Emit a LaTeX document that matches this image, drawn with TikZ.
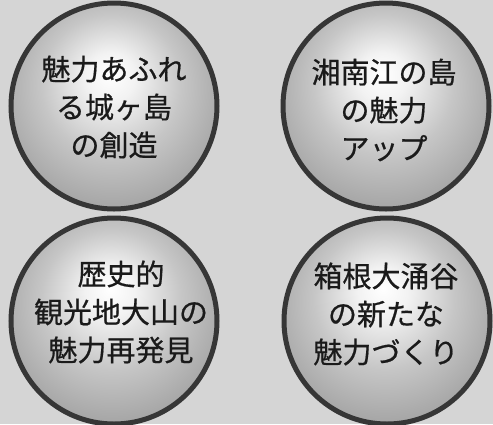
\documentclass[tikz,border=0pt]{standalone}
\usepackage{fontspec}
\newfontfamily\jp[FakeBold=0.6]{Noto Sans CJK JP}
\definecolor{bg}{HTML}{D5D5D5}
\definecolor{rim}{HTML}{363636}
\definecolor{ink}{HTML}{1A1A1A}
\definecolor{edgegray}{HTML}{A6A6A6}
\definecolor{midgray}{HTML}{C6C6C6}
\pgfdeclareradialshading{ball}{\pgfpoint{-1bp}{8bp}}{%
  color(0bp)=(white); color(6bp)=(white!95!black); color(17bp)=(midgray);
  color(28bp)=(edgegray); color(50bp)=(edgegray)}
\tikzset{
  orb/.style={circle, minimum size=206pt, inner sep=0pt, draw=rim, line width=5pt, shading=ball},
  label/.style={font=\jp\fontsize{29pt}{38pt}\selectfont, text=ink, align=center, inner sep=0pt}
}
\begin{document}
\begin{tikzpicture}[x=1pt,y=-1pt]
\fill[bg] (0,0) rectangle (493,424);
\useasboundingbox (0,0) rectangle (493,424);
\node[orb] (tl) at (114,106) {};
\node[orb] (tr) at (386,106) {};
\node[orb] (bl) at (114,321) {};
\node[orb] (br) at (387,321) {};
\node[label] (tlt) at (114,107) {魅力あふれ\\る城ヶ島\\の創造};
\node[label] (trt) at (384,110) {湘南江の島\\の魅力\\アップ};
\node[label] (blt) at (121,312) {歴史的\\観光地大山の\\魅力再発見};
\node[label] (brt) at (386,314) {箱根大涌谷\\の新たな\\魅力づくり};
\end{tikzpicture}
\end{document}
